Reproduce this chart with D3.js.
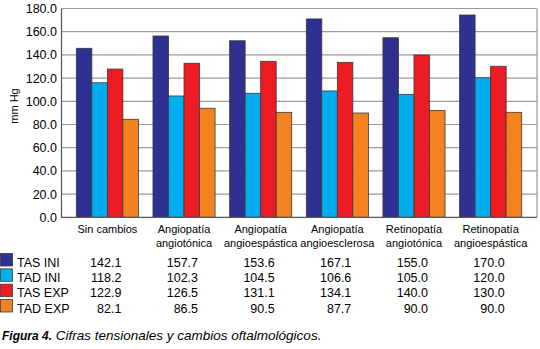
<!DOCTYPE html>
<html>
<head>
<meta charset="utf-8">
<script src="https://cdn.jsdelivr.net/npm/d3@7"></script>
<style>
  body { margin: 0; background: #fff; }
  svg { font-family: "Liberation Sans", Arial, sans-serif; }
</style>
</head>
<body>
<svg id="chart"></svg>
<script>
// categories (x groups), split on two lines
const categories = [
  ["Sin cambios"],
  ["Angiopatía", "angiotónica"],
  ["Angiopatía", "angioespástica"],
  ["Angiopatía", "angioesclerosa"],
  ["Retinopatía", "angiotónica"],
  ["Retinopatía", "angioespástica"]
];
const seriesNames = ["TAS INI", "TAD INI", "TAS EXP", "TAD EXP"];
const seriesColors = ["#2e3192", "#00aeef", "#ed1c24", "#f58220"];

// bar heights as drawn in the figure
const tasIni = [145.7, 156.3, 152.2, 171.0, 154.8, 174.4];
const tadIni = [116.0, 104.6, 106.9, 108.9, 106.0, 120.3];
const tasExp = [127.8, 132.8, 134.5, 133.6, 139.9, 130.2];
const tadExp = [84.5, 94.0, 90.5, 89.9, 92.2, 90.5];

// numbers printed in the data table
const tasIniLabels = ["142.1", "157.7", "153.6", "167.1", "155.0", "170.0"];
const tadIniLabels = ["118.2", "102.3", "104.5", "106.6", "105.0", "120.0"];
const tasExpLabels = ["122.9", "126.5", "131.1", "134.1", "140.0", "130.0"];
const tadExpLabels = ["82.1", "86.5", "90.5", "87.7", "90.0", "90.0"];

const yTicks = [0, 20, 40, 60, 80, 100, 120, 140, 160, 180];

const barValues = [tasIni, tadIni, tasExp, tadExp];
const tableLabels = [tasIniLabels, tadIniLabels, tasExpLabels, tadExpLabels];

const config = {
  containerWidth: 540,
  containerHeight: 349,
  margin: { top: 8.5, bottom: 131.7, right: 3, left: 61 }
};
const width = config.containerWidth - config.margin.left - config.margin.right;
const height = config.containerHeight - config.margin.top - config.margin.bottom;

const svg = d3.select("#chart")
    .attr("width", config.containerWidth)
    .attr("height", config.containerHeight);

const chart = svg.append("g")
    .attr("transform", `translate(${config.margin.left},${config.margin.top})`);

const xScale = d3.scaleBand()
    .domain(d3.range(categories.length))
    .range([0, width])
    .paddingInner(0.19)
    .paddingOuter(0.2);

const xSub = d3.scaleBand()
    .domain(seriesNames)
    .range([0, xScale.bandwidth()]);

const yScale = d3.scaleLinear()
    .domain([0, 180])
    .range([height, 0]);

// gridlines
chart.selectAll(".grid")
    .data(yTicks.filter(d => d > 0))
    .join("line")
    .attr("class", "grid")
    .attr("x1", 0)
    .attr("x2", width)
    .attr("y1", d => yScale(d))
    .attr("y2", d => yScale(d))
    .attr("stroke", "#9a9a9a")
    .attr("stroke-width", 1.2);

// right border
chart.append("line")
    .attr("x1", width).attr("x2", width)
    .attr("y1", 0).attr("y2", height)
    .attr("stroke", "#9a9a9a")
    .attr("stroke-width", 1.2);

// y axis
const yAxis = d3.axisLeft(yScale)
    .tickValues(yTicks)
    .tickFormat(d3.format(".1f"))
    .tickSize(0)
    .tickPadding(4);

const yAxisG = chart.append("g").call(yAxis);
yAxisG.select(".domain").attr("stroke", "#555").attr("stroke-width", 1.2);
yAxisG.selectAll("text")
    .attr("fill", "#000")
    .style("font-family", "'Liberation Sans', Arial, sans-serif")
    .style("font-size", "12.5px");

// bars
seriesNames.forEach((name, si) => {
  chart.selectAll(".bar-" + si)
      .data(barValues[si])
      .join("rect")
      .attr("class", "bar-" + si)
      .attr("x", (d, i) => xScale(i) + xSub(name))
      .attr("y", d => yScale(d))
      .attr("width", xSub.bandwidth())
      .attr("height", d => height - yScale(d))
      .attr("fill", seriesColors[si])
      .attr("stroke", "#3a3a3a")
      .attr("stroke-width", 0.8);
});

// bottom axis line
chart.append("line")
    .attr("x1", 0).attr("x2", width)
    .attr("y1", height).attr("y2", height)
    .attr("stroke", "#555")
    .attr("stroke-width", 1.2);

// category labels
const catLabels = chart.selectAll(".cat")
    .data(categories)
    .join("text")
    .attr("class", "cat")
    .attr("text-anchor", "middle")
    .style("font-size", "11px")
    .attr("transform", (d, i) => `translate(${xScale(i) + xScale.bandwidth() / 2},${height + 15.5})`);
catLabels.selectAll("tspan")
    .data(d => d)
    .join("tspan")
    .attr("x", 0)
    .attr("y", (d, i) => i * 14.5)
    .text(d => d);

// y axis title
svg.append("text")
    .attr("transform", "translate(18,106) rotate(-90)")
    .attr("text-anchor", "middle")
    .style("font-size", "11px")
    .text("mm Hg");

// data table
const rowY = d3.scalePoint()
    .domain(seriesNames)
    .range([266.5, 312.5]);

seriesNames.forEach((name, si) => {
  svg.append("rect")
      .attr("x", 0.5)
      .attr("y", rowY(name) - 13)
      .attr("width", 12)
      .attr("height", 12.5)
      .attr("fill", seriesColors[si])
      .attr("stroke", "#3a3a3a")
      .attr("stroke-width", 0.8);

  svg.append("text")
      .attr("x", 17)
      .attr("y", rowY(name))
      .style("font-size", "12.5px")
      .text(name);

  svg.selectAll(".val-" + si)
      .data(tableLabels[si])
      .join("text")
      .attr("class", "val-" + si)
      .attr("text-anchor", "end")
      .attr("x", (d, i) => config.margin.left + xScale(i) + xScale.bandwidth() / 2 + 14)
      .attr("y", rowY(name))
      .style("font-size", "12.5px")
      .text(d => d);
});

// caption
const caption = svg.append("text")
    .attr("x", 2)
    .attr("y", 340)
    .style("font-style", "italic");
caption.append("tspan")
    .style("font-weight", "bold")
    .style("font-size", "12px")
    .text("Figura 4.");
caption.append("tspan")
    .style("font-size", "13.5px")
    .text(" Cifras tensionales y cambios oftalmológicos.");
</script>
</body>
</html>
